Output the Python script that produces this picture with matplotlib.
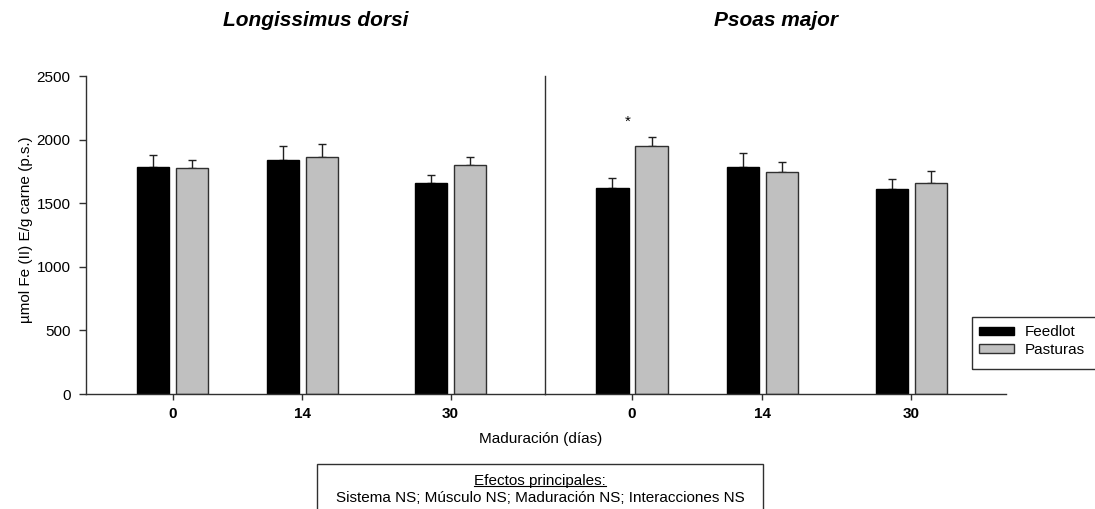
import matplotlib
matplotlib.use("Agg")
import matplotlib.pyplot as plt
from matplotlib.patches import Rectangle, Patch
from matplotlib.lines import Line2D

plt.rcParams['font.family'] = ['Liberation Sans', 'DejaVu Sans']

days = [0, 14, 30]
panels = ["Longissimus dorsi", "Psoas major"]
series = ["Feedlot", "Pasturas"]
feedlot_ld = [1782, 1842, 1661]
feedlot_ld_err = [99, 110, 58]
pasturas_ld = [1774, 1863, 1800]
pasturas_ld_err = [68, 100, 66]
feedlot_pm = [1622, 1785, 1612]
feedlot_pm_err = [78, 110, 81]
pasturas_pm = [1952, 1745, 1656]
pasturas_pm_err = [71, 81, 95]
star_day = 0
star_value = 2140

W, H = 1095, 509
fig = plt.figure(figsize=(W / 100, H / 100), dpi=100)

def fx(px):
    return px / W

def fy(py):
    return 1 - py / H

ax_bottom = fy(394)
ax_height = (394 - 76) / H
ax1 = fig.add_axes([fx(86), ax_bottom, fx(545 - 86), ax_height])
ax2 = fig.add_axes([fx(545), ax_bottom, fx(1006 - 545), ax_height])

off = 2.1
bw = 3.45
colors = ["black", "#c0c0c0"]
edges = ["black", "#303030"]
data = [
    [(feedlot_ld, feedlot_ld_err), (pasturas_ld, pasturas_ld_err)],
    [(feedlot_pm, feedlot_pm_err), (pasturas_pm, pasturas_pm_err)],
]

for ax, title, pdata in zip([ax1, ax2], panels, data):
    for k, (vals, errs) in enumerate(pdata):
        xs = [d + (-off if k == 0 else off) for d in days]
        ax.bar(xs, vals, width=bw, color=colors[k], edgecolor=edges[k],
               linewidth=1.0, label=series[k], zorder=2)
        ax.errorbar(xs, vals, yerr=[[0] * len(errs), errs], fmt='none',
                    ecolor='#202020', elinewidth=1.0, capsize=3.2,
                    capthick=1.0, zorder=1)
    ax.set_xlim(-9.35, 40.2)
    ax.set_ylim(0, 2500)
    ax.set_xticks(days)
    ax.set_xticklabels([str(d) for d in days], fontweight='bold', fontsize=11)
    ax.tick_params(axis='x', direction='out', length=4, width=1,
                   color='#303030', pad=5)
    for s in ['top', 'right']:
        ax.spines[s].set_visible(False)
    for s in ['left', 'bottom']:
        ax.spines[s].set_color('#303030')
        ax.spines[s].set_linewidth(1.0)
    ax.set_title(title, fontsize=15, fontweight='bold', style='italic',
                 pad=0, y=1 + (76 - 26) / 318)

ax1.set_yticks([0, 500, 1000, 1500, 2000, 2500])
ax1.tick_params(axis='y', direction='out', length=5, width=1,
                color='#303030', labelsize=11, pad=6)
ax2.set_yticks([])
ax2.text(star_day - 0.5, star_value, '*', ha='center', va='center', fontsize=11)

fig.text(fx(26), fy(230), "µmol Fe (II) E/g carne (p.s.)", rotation=90,
         ha='center', va='center', fontsize=11)

fig.text(fx(541), fy(439), "Maduración (días)", ha='center', va='center',
         fontsize=11)

handles = [Patch(facecolor='black', edgecolor='black'),
           Patch(facecolor='#c0c0c0', edgecolor='#303030')]
fig.legend(handles, series, loc='upper left',
           bbox_to_anchor=(fx(976), fy(322)), frameon=False, fontsize=11,
           borderaxespad=0, borderpad=0.2, handlelength=2.3,
           handleheight=0.45, handletextpad=0.7, labelspacing=0.25)
fig.add_artist(Rectangle((fx(972), fy(369)), fx(1110 - 972), (369 - 317) / H,
                         transform=fig.transFigure, facecolor='none',
                         edgecolor='#303030', linewidth=1.0))

box = Rectangle((fx(317), fy(530)), fx(763 - 317), (530 - 464) / H,
                transform=fig.transFigure, facecolor='white',
                edgecolor='#303030', linewidth=1.0)
fig.add_artist(box)
t1 = fig.text(fx(540), fy(481), "Efectos principales:", ha='center',
              va='center', fontsize=11)
fig.text(fx(540), fy(498),
         "Sistema NS; Músculo NS; Maduración NS; Interacciones NS",
         ha='center', va='center', fontsize=11)

fig.canvas.draw()
bb = t1.get_window_extent(renderer=fig.canvas.get_renderer())
uy = bb.y0 + 2
fig.add_artist(Line2D([bb.x0 / W, bb.x1 / W], [uy / H, uy / H],
                      transform=fig.transFigure, color='black', linewidth=0.8))

fig.savefig("out.png", dpi=100)
